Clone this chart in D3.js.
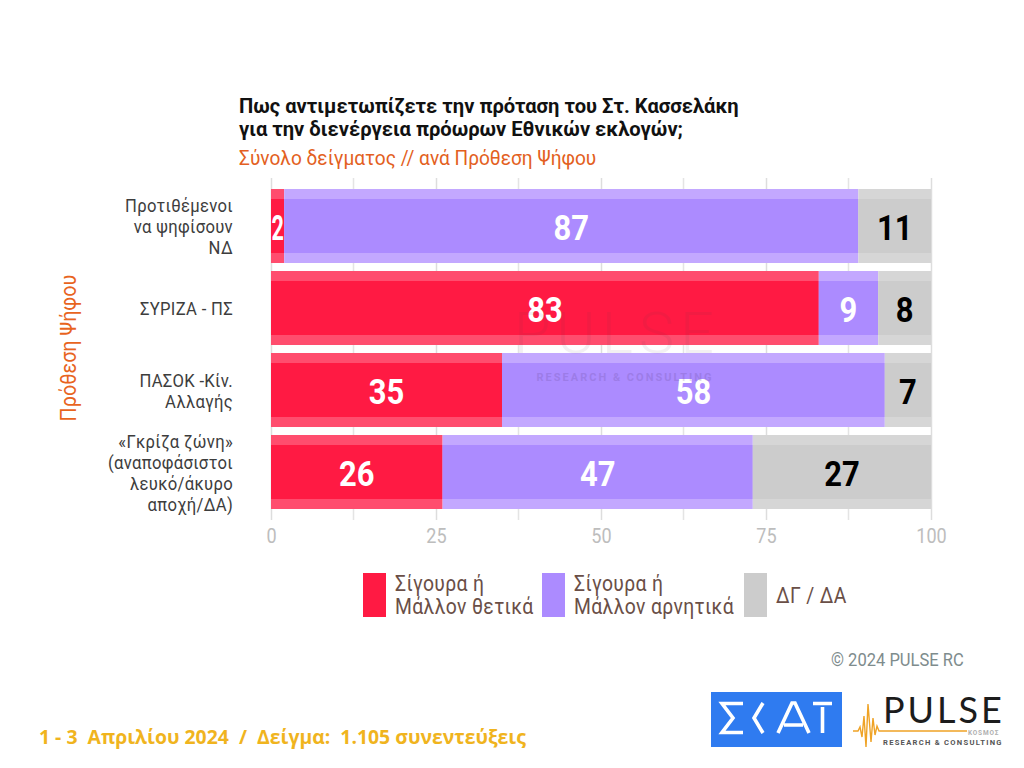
<!DOCTYPE html>
<html lang="el"><head><meta charset="utf-8">
<style>html,body{margin:0;background:#fff}svg{display:block}text{white-space:pre}</style>
<script src="https://cdn.jsdelivr.net/npm/d3@7/dist/d3.min.js"></script></head>
<body><svg id="c" width="1024" height="768"></svg>
<script>
const categories = [
  ["Προτιθέμενοι","να ψηφίσουν","ΝΔ"],
  ["ΣΥΡΙΖΑ - ΠΣ"],
  ["ΠΑΣΟΚ -Κίν.","Αλλαγής"],
  ["«Γκρίζα ζώνη»","(αναποφάσιστοι","λευκό/άκυρο","αποχή/ΔΑ)"]
];
const seriesNames = [["Σίγουρα ή","Μάλλον θετικά"],["Σίγουρα ή","Μάλλον αρνητικά"],["ΔΓ / ΔΑ"]];
const positive = [2,83,35,26];
const negative = [87,9,58,47];
const unknown  = [11,8,7,27];
const series = [positive,negative,unknown];
const colors = ["#FF1A43","#AC8BFF","#CCCCCC"];
const stripColors = ["#FF4D6E","#C3A8FF","#D6D6D6"];
const labelColors = ["#fff","#fff","#000"];
const xTicks = [0,25,50,75,100];
const minorTicks = [12.5,37.5,62.5,87.5];

const svg = d3.select("#c");
const COND="Roboto, sans-serif";
function txt(p,x,y,s,o={}){
  return p.append("text").attr("transform",`translate(${x},${y}) scale(${o.sx||0.86},1)`)
   .attr("text-anchor",o.anchor||"start").attr("font-family",o.font||COND)
   .attr("font-size",o.size||18).attr("font-weight",o.weight||400)
   .attr("letter-spacing",o.ls||null)
   .attr("fill",o.fill||"#333").attr("opacity",o.op==null?1:o.op).text(s);
}
const x = d3.scaleLinear().domain([0,100]).range([271,931]);
const y = d3.scaleBand().domain(d3.range(categories.length)).range([189,509]).paddingInner(8/82);

// grid and axis
svg.append("g").selectAll("line").data(minorTicks).join("line")
  .attr("x1",d=>x(d)).attr("x2",d=>x(d)).attr("y1",178).attr("y2",520)
  .attr("stroke","#E4E4E4").attr("stroke-width",1.5);
const ax = svg.append("g").attr("transform","translate(0,520)")
  .call(d3.axisBottom(x).tickValues(xTicks).tickSize(-342).tickPadding(8).tickFormat(d3.format("d")));
ax.select(".domain").remove();
ax.selectAll("line").attr("stroke","#DDDDDD").attr("stroke-width",1.5);
ax.selectAll("text").attr("fill","#BDBDBD").attr("font-family",COND).attr("font-size",21)
  .attr("transform","scale(0.86,1)");

// bars
series.forEach((vals,si)=>{
  vals.forEach((v,i)=>{
    const start = d3.sum(series.slice(0,si),s=>s[i]);
    const g = svg.append("g");
    const X=x(start), W=x(start+v)-x(start), Y=y(i), H=y.bandwidth();
    g.append("rect").attr("x",X).attr("y",Y).attr("width",W).attr("height",H).attr("fill",stripColors[si]);
    g.append("rect").attr("x",X).attr("y",Y+10).attr("width",W).attr("height",H-20).attr("fill",colors[si]);
    txt(g,X+W/2,Y+H/2+13.5,String(v),{anchor:"middle",size:36,weight:700,fill:labelColors[si],sx:W<20?0.6:0.86});
  });
});

// watermark
txt(svg,617,353,"PULSE",{anchor:"middle",size:58,weight:300,fill:"#5a3a50",op:0.07,sx:1.02,ls:6});
txt(svg,625,381,"RESEARCH & CONSULTING",{anchor:"middle",size:11,weight:700,fill:"#5a3a80",op:0.18,sx:1,ls:2});

// category labels
categories.forEach((lines,i)=>{
  const mid=y(i)+y.bandwidth()/2;
  lines.forEach((l,k)=>txt(svg,233,mid+(k-(lines.length-1)/2)*21+7,l,{anchor:"end",size:18.5,fill:"#3D3D3D",sx:0.9,ls:0.35}));
});
svg.append("text").attr("transform","translate(76,348) rotate(-90) scale(0.9,1)")
  .attr("text-anchor","middle").attr("font-family",COND).attr("font-size",22).attr("fill","#E8641E").text("Πρόθεση Ψήφου");

// titles
txt(svg,239,113,"Πως αντιμετωπίζετε την πρόταση του Στ. Κασσελάκη",{size:21,weight:700,fill:"#111",sx:0.96});
txt(svg,239,136,"για την διενέργεια πρόωρων Εθνικών εκλογών;",{size:21,weight:700,fill:"#111",sx:0.96});
txt(svg,239,165,"Σύνολο δείγματος // ανά Πρόθεση Ψήφου",{size:20,fill:"#E35F22",sx:0.955});

// legend
const legX=[363,542,744];
seriesNames.forEach((n,i)=>{
  svg.append("rect").attr("x",legX[i]).attr("y",573).attr("width",23).attr("height",44).attr("fill",colors[i]);
  const tx=legX[i]+32;
  if(n.length===2){
    txt(svg,tx,591,n[0],{size:21.5,fill:"#6A4F47",sx:0.9,ls:0.4});
    txt(svg,tx,614,n[1],{size:21.5,fill:"#6A4F47",sx:0.9,ls:0.4});
  } else txt(svg,tx,603,n[0],{size:21.5,fill:"#6A4F47",sx:0.9,ls:0.4});
});

// footer
txt(svg,831,666,"© 2024 PULSE RC",{size:18,fill:"#7E8C8D",sx:0.92});
txt(svg,39,744,"1 - 3  Απριλίου 2024  /  Δείγμα:  1.105 συνεντεύξεις",{font:"'Open Sans',sans-serif",size:20,weight:700,fill:"#F0B41E",sx:0.97});

// SKAI logo
const lg=svg.append("g");
lg.append("rect").attr("x",711).attr("y",692).attr("width",131).attr("height",55).attr("fill","#2F7BF0");
const wp="M743 703.500H722L733 718L722 732.500H743 M763 703L754 718L763 733 M778 733L792 703H795L809 733 M784 725H803 M822.500 707V733 M813 703.500H832";
lg.append("path").attr("d",wp).attr("fill","none").attr("stroke","#fff").attr("stroke-width",3.6);
// PULSE logo
txt(svg,883,723,"PULSE",{font:"Lato, sans-serif",size:36,weight:400,fill:"#1c1c1c",sx:1,ls:3});
svg.append("path").attr("d","M853 731H858L860 727L862 737L864 716L866 747L868 704L871 742L873 718L875 735L877 726L879 731H967")
  .attr("fill","none").attr("stroke","#EFA326").attr("stroke-width",1.4);
txt(svg,968,735,"KOSMOΣ",{size:6.5,weight:700,fill:"#b0b0b0",sx:1,ls:0.8});
txt(svg,883,745,"RESEARCH & CONSULTING",{size:7.6,weight:700,fill:"#555",sx:1,ls:1.27});
</script></body></html>
